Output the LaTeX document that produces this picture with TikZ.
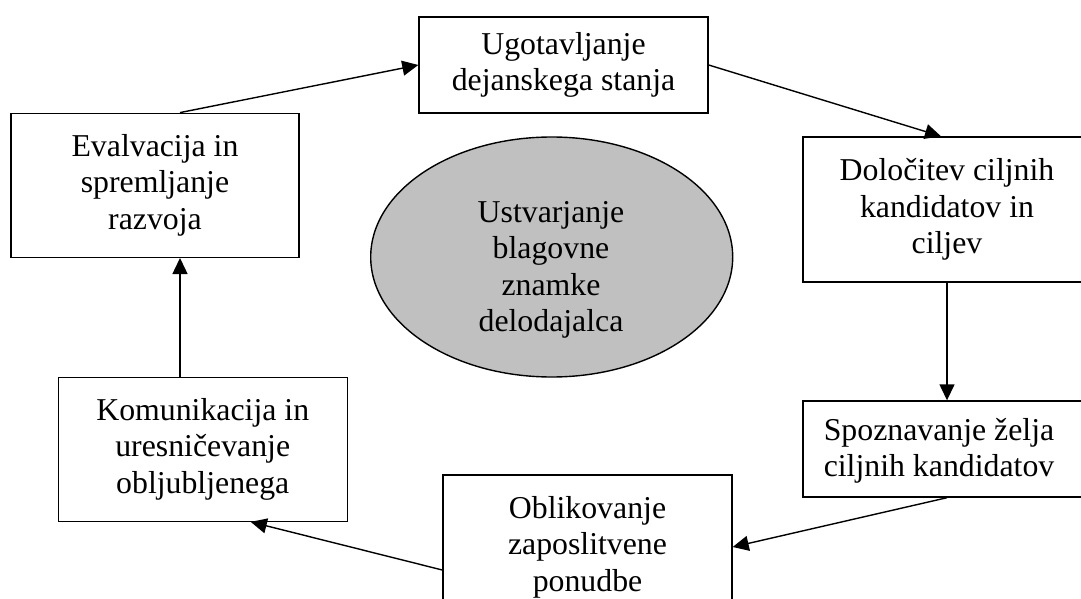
\documentclass[tikz,border=0pt]{standalone}
\usepackage{fontspec}
\setmainfont{Liberation Serif}
\usetikzlibrary{arrows.meta,shapes.geometric}
\begin{document}
\begin{tikzpicture}[x=1pt,y=-1pt,
  txt/.style={font=\fontsize{31.8}{36.5}\selectfont},
  box/.style={txt,draw=black,line width=1.4pt,rectangle,inner sep=0pt,align=center,fill=white},
  lbl/.style={txt,inner sep=0pt,align=center},
  arr/.style={draw=black,line width=1.4pt,-{Triangle[length=16pt,width=15pt]}}]
\useasboundingbox (0,0) rectangle (1081,599);
\clip (0,0) rectangle (1081,599);
% boxes
\node[box,minimum width=289pt,minimum height=96pt] (T) at (563.5,65) {Ugotavljanje\\dejanskega stanja};
\node[box,minimum width=288pt,minimum height=144pt] (E) at (155,185.3) {Evalvacija in\\spremljanje\\razvoja};
\node[box,minimum width=288pt,minimum height=145pt] (D) at (947,209.5) {Določitev ciljnih\\kandidatov in\\ciljev};
\node[box,minimum width=288pt,minimum height=96pt] (S) at (947,449) {};
\node[lbl] (St) at (939,451) {Spoznavanje želja\\ciljnih kandidatov};
\node[box,minimum width=289pt,minimum height=144pt] (K) at (202.75,449.2) {Komunikacija in\\uresničevanje\\obljubljenega};
\node[box,minimum width=289pt,minimum height=144pt] (O) at (587.5,547) {Oblikovanje\\zaposlitvene\\ponudbe};
% ellipse
\node[ellipse,draw=black,line width=1.4pt,fill={rgb,255:red,192;green,192;blue,192},minimum width=362pt,minimum height=240pt,inner sep=0pt] (U) at (551.7,257) {};
\node[lbl] (Ut) at (551,270) {Ustvarjanje\\blagovne\\znamke\\delodajalca};
% connectors
\draw[arr] ([xshift=25pt]E.north) -- (T.west);
\draw[arr] (T.east) -- ([xshift=-6pt]D.north);
\draw[arr] (D.south) -- (S.north);
\draw[arr] (S.south) -- (O.east);
\draw[arr] ([yshift=-23pt]O.west) -- ([xshift=48pt]K.south);
\draw[arr] ([xshift=-22.75pt]K.north) -- ([xshift=25pt]E.south);
\end{tikzpicture}
\end{document}
